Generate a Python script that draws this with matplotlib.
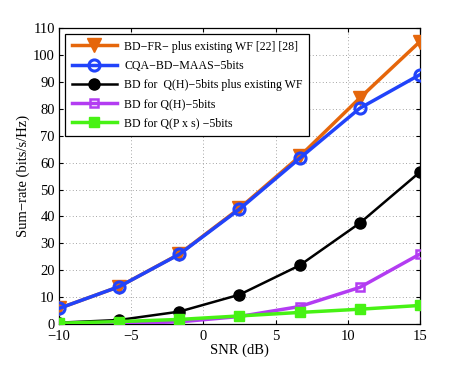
import numpy as np
import matplotlib
matplotlib.use("Agg")
import matplotlib.pyplot as plt

plt.rcParams['font.family'] = ['Liberation Serif', 'DejaVu Serif']
plt.rcParams['mathtext.fontset'] = 'stix'

snr = [-10, -5.83, -1.67, 2.5, 6.67, 10.83, 15]
bd_fr = [5.8, 13.9, 26.0, 43.0, 62.3, 84.0, 105.0]
cqa = [5.8, 13.9, 25.9, 42.7, 61.6, 80.2, 92.7]
bd_qh_wf = [0.5, 1.5, 4.6, 10.9, 21.8, 37.5, 56.5]
bd_qh = [0.2, 0.2, 0.8, 2.8, 6.5, 13.6, 26.0]
bd_qps = [0.3, 0.9, 1.7, 3.0, 4.3, 5.5, 6.9]

labels = ['BD\u2212FR\u2212 plus existing WF [22] [28]',
          'CQA\u2212BD\u2212MAAS\u22125bits',
          'BD for  Q(H)\u22125bits plus existing WF',
          'BD for Q(H)\u22125bits',
          'BD for Q(P x s) \u22125bits']
xticks = [-10, -5, 0, 5, 10, 15]
yticks = list(range(0, 111, 10))

fig = plt.figure(figsize=(4.63, 3.65), dpi=100)
ax = fig.add_axes([0.1274, 0.1123, 0.907 - 0.1274, 0.923 - 0.1123])

orange = '#E5660B'
blue = '#2143FA'
purple = '#B33CF2'
green = '#47F214'

ax.plot(snr, bd_fr, color=orange, lw=2.5, marker='v', ms=10, mfc=orange, mec=orange, label=labels[0], zorder=3)
ax.plot(snr, cqa, color=blue, lw=2.5, marker='o', ms=8, mfc='none', mec=blue, mew=2.2, label=labels[1], zorder=4)
ax.plot(snr, bd_qh_wf, color='black', lw=1.8, marker='o', ms=8, mfc='black', mec='black', label=labels[2], zorder=3)
ax.plot(snr, bd_qh, color=purple, lw=2.5, marker='s', ms=6, mfc='none', mec=purple, mew=1.8, label=labels[3], zorder=3)
ax.plot(snr, bd_qps, color=green, lw=2.5, marker='s', ms=6.5, mfc=green, mec=green, label=labels[4], zorder=3)

ax.set_xlim(-10, 15)
ax.set_ylim(0, 110)
ax.set_xticks(xticks)
ax.set_yticks(yticks)
ax.set_xticklabels([('\u2212%d' % -t) if t < 0 else str(t) for t in xticks])
ax.tick_params(direction='in', length=3, labelsize=10.5, top=True, right=True, width=0.8)
ax.tick_params(axis='x', pad=4.5)
ax.tick_params(axis='y', pad=3)
ax.grid(True, linestyle=(0, (1, 3)), color='#888888', lw=0.6)
for s in ax.spines.values():
    s.set_linewidth(0.9)
ax.set_xlabel('SNR (dB)', fontsize=10.5, labelpad=0)
ax.set_ylabel('Sum\u2212rate (bits/s/Hz)', fontsize=10.5, labelpad=2)

leg = ax.legend(loc='upper left', fontsize=8.6, frameon=True, fancybox=False,
                edgecolor='black', borderaxespad=0.5, handlelength=3.8,
                labelspacing=0.6, borderpad=0.55, handletextpad=0.6)
leg.get_frame().set_linewidth(0.9)
leg.get_frame().set_alpha(1)

fig.savefig('out.png', dpi=100)
